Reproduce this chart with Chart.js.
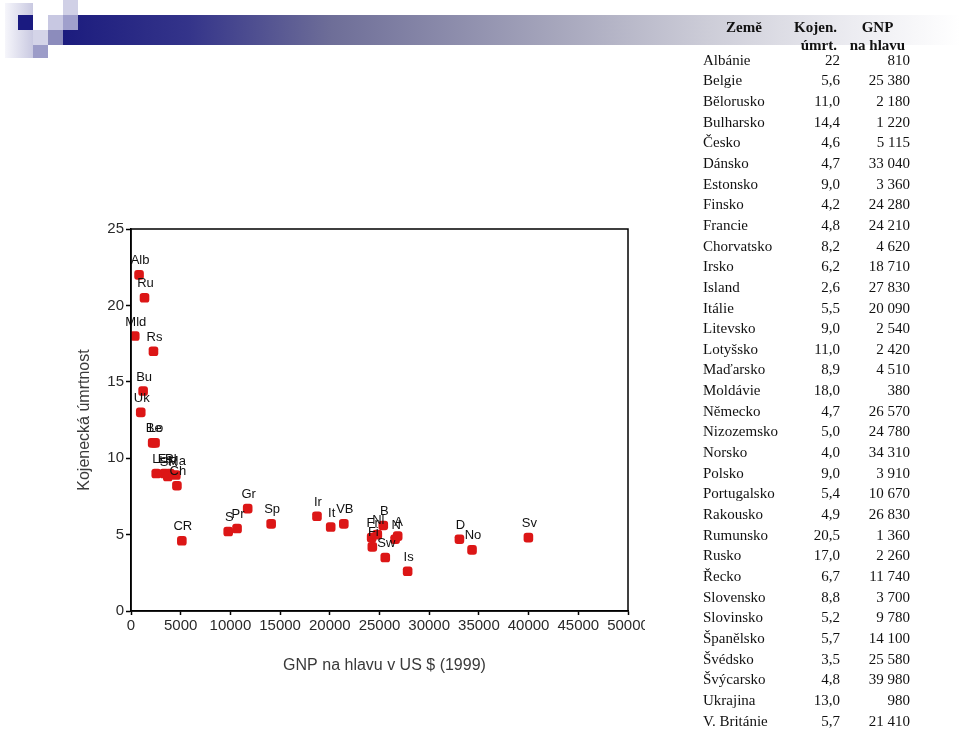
<!DOCTYPE html>
<html lang="cs">
<head>
<meta charset="utf-8">
<title>Kojenecká úmrtnost a GNP na hlavu</title>
<script src="https://cdn.jsdelivr.net/npm/chart.js@4"></script>
<style>
  html, body { margin: 0; padding: 0; background: #fff; }
  body { width: 960px; height: 731px; position: relative; overflow: hidden; }
  .ctv { position: absolute; }
  #pruh {
    position: absolute; left: 63px; top: 15px; width: 897px; height: 30px;
    background: linear-gradient(to right, #1c1c7e 0%, #34348a 14%, #6e6e98 30%, #a6a6bc 55%, #cdcdd8 72%, #ececf1 88%, #ffffff 100%);
  }
  #graf { position: absolute; left: 0; top: 0; }
  #tabulka { position: absolute; left: 0; top: 0; width: 960px; height: 731px;
    font-family: "Liberation Serif", "Times New Roman", serif; font-size: 15px; color: #111; }
  .hlav { position: absolute; font-weight: bold; line-height: 18px; top: 18px; }
  .radek { position: absolute; left: 0; width: 960px; height: 20.65px; line-height: 20.65px; }
  .radek span { position: absolute; top: 0; }
  .c1 { left: 703px; }
  .c2 { left: 780px; width: 60px; text-align: right; }
  .c3 { left: 840px; width: 70px; text-align: right; }
</style>
</head>
<body>

<!-- logo vlevo nahore -->
<div class="ctv" style="left:5px;top:3px;width:28px;height:55px;background:linear-gradient(to right,#f6f6fb,#c9c9e1);"></div>
<div class="ctv" style="left:18px;top:15px;width:15px;height:15px;background:#1a1a80;"></div>
<div class="ctv" style="left:33px;top:30px;width:15px;height:15px;background:#d4d4e8;"></div>
<div class="ctv" style="left:33px;top:45px;width:15px;height:13px;background:#9c9cc8;"></div>
<div class="ctv" style="left:48px;top:15px;width:15px;height:15px;background:#c8c8e2;"></div>
<div class="ctv" style="left:48px;top:30px;width:15px;height:15px;background:#8c8cbc;"></div>
<div class="ctv" style="left:63px;top:0px;width:15px;height:15px;background:#d0d0e6;"></div>
<div id="pruh"></div>
<div class="ctv" style="left:63px;top:15px;width:15px;height:15px;background:#a0a0cc;"></div>

<canvas id="graf" width="645" height="731"></canvas>

<div id="tabulka">
  <div class="hlav" style="left:726px;">Země</div>
  <div class="hlav" style="left:780px;width:57px;text-align:right;">Kojen.<br>úmrt.</div>
  <div class="hlav" style="left:845px;width:65px;text-align:center;">GNP<br>na hlavu</div>
</div>

<script>
// data z tabulky (zeme, kojenecka umrtnost, GNP na hlavu v US $ 1999)
const zeme = ['Albánie', 'Belgie', 'Bělorusko', 'Bulharsko', 'Česko', 'Dánsko', 'Estonsko', 'Finsko',
  'Francie', 'Chorvatsko', 'Irsko', 'Island', 'Itálie', 'Litevsko', 'Lotyšsko', 'Maďarsko', 'Moldávie',
  'Německo', 'Nizozemsko', 'Norsko', 'Polsko', 'Portugalsko', 'Rakousko', 'Rumunsko', 'Rusko', 'Řecko',
  'Slovensko', 'Slovinsko', 'Španělsko', 'Švédsko', 'Švýcarsko', 'Ukrajina', 'V. Británie'];
const zkratky = ['Alb', 'B', 'Be', 'Bu', 'CR', 'D', 'Es', 'Fi', 'Fr', 'Ch', 'Ir', 'Is', 'It', 'Li', 'Lo',
  'Ma', 'Mld', 'N', 'Nl', 'No', 'Pl', 'Pr', 'A', 'Ru', 'Rs', 'Gr', 'SR', 'S', 'Sp', 'Sw', 'Sv', 'Uk', 'VB'];
const umrtnost = [22, 5.6, 11.0, 14.4, 4.6, 4.7, 9.0, 4.2, 4.8, 8.2, 6.2, 2.6, 5.5, 9.0, 11.0, 8.9, 18.0,
  4.7, 5.0, 4.0, 9.0, 5.4, 4.9, 20.5, 17.0, 6.7, 8.8, 5.2, 5.7, 3.5, 4.8, 13.0, 5.7];
const gnp = [810, 25380, 2180, 1220, 5115, 33040, 3360, 24280, 24210, 4620, 18710, 27830, 20090, 2540,
  2420, 4510, 380, 26570, 24780, 34310, 3910, 10670, 26830, 1360, 2260, 11740, 3700, 9780, 14100, 25580,
  39980, 980, 21410];

const titulX = 'GNP na hlavu v US $ (1999)';
const titulY = 'Kojenecká úmrtnost';
const PISMO = '"Liberation Sans", Arial, sans-serif';

/* ---------- tabulka vpravo ---------- */
function fmtUmrt(v) {
  // v originale je "22" bez desetinne casti, ostatni s jednim mistem
  return (String(v).includes('.') || v < 20) ? v.toFixed(1).replace('.', ',') : String(v);
}
function fmtGnp(v) {
  return String(v).replace(/\B(?=(\d{3})+(?!\d))/g, ' ');
}
const tab = document.getElementById('tabulka');
zeme.forEach((z, i) => {
  const r = document.createElement('div');
  r.className = 'radek';
  r.style.top = (49.7 + i * 20.65) + 'px';
  r.innerHTML = `<span class="c1">${z}</span><span class="c2">${fmtUmrt(umrtnost[i])}</span><span class="c3">${fmtGnp(gnp[i])}</span>`;
  tab.appendChild(r);
});

/* ---------- pluginy: ramecek, popisky bodu, nazvy os ---------- */
const ramecek = {
  id: 'ramecek',
  afterDraw(chart) {
    const { ctx, chartArea: a } = chart;
    ctx.save();
    ctx.strokeStyle = '#000';
    ctx.lineWidth = 1.5;
    ctx.strokeRect(a.left, a.top, a.right - a.left, a.bottom - a.top);
    ctx.restore();
  }
};

const popisky = {
  id: 'popisky',
  afterDatasetsDraw(chart) {
    const ctx = chart.ctx;
    const meta = chart.getDatasetMeta(0);
    ctx.save();
    ctx.font = '13px ' + PISMO;
    ctx.fillStyle = '#111';
    ctx.textAlign = 'center';
    ctx.textBaseline = 'middle';
    meta.data.forEach((pt, i) => ctx.fillText(zkratky[i], pt.x + 1, pt.y - 14));
    ctx.restore();
  }
};

const titulky = {
  id: 'titulky',
  afterDraw(chart) {
    const ctx = chart.ctx, a = chart.chartArea;
    ctx.save();
    ctx.font = '16px ' + PISMO;
    ctx.fillStyle = '#3a3a3a';
    ctx.textAlign = 'center';
    ctx.textBaseline = 'middle';
    ctx.fillText(titulX, (a.left + a.right) / 2 + 5, 666);
    ctx.translate(85, (a.top + a.bottom) / 2);
    ctx.rotate(-Math.PI / 2);
    ctx.fillText(titulY, 0, 0);
    ctx.restore();
  }
};

const osa = {
  border: { color: '#000', width: 1.5 },
  grid: { drawOnChartArea: false, drawTicks: true, tickLength: 5, color: '#000', tickWidth: 1.5 },
};

new Chart(document.getElementById('graf'), {
  type: 'scatter',
  data: {
    datasets: [{
      data: gnp.map((x, i) => ({ x, y: umrtnost[i] })),
      backgroundColor: '#dc1616',
      borderWidth: 0,
      pointStyle: 'rectRounded',
      pointRadius: 5.6,
    }]
  },
  options: {
    responsive: false,
    animation: false,
    devicePixelRatio: 1,
    layout: { padding: { left: 0, top: 229, right: 17, bottom: 0 } },
    plugins: { legend: { display: false }, tooltip: { enabled: false } },
    scales: {
      x: {
        type: 'linear', min: 0, max: 50000, ...osa,
        grid: { ...osa.grid, tickLength: 4 },
        ticks: { stepSize: 5000, autoSkip: false, maxRotation: 0, padding: 2, color: '#2a2a2a',
          font: { family: PISMO, size: 15 }, callback: v => String(v) },
        afterFit: s => { s.height = 120; s.paddingLeft = 0; s.paddingRight = 0; },
      },
      y: {
        min: 0, max: 25, ...osa,
        ticks: { stepSize: 5, padding: 2, color: '#2a2a2a', font: { family: PISMO, size: 15 },
          callback: v => String(v) },
        afterFit: s => { s.width = 131; s.paddingTop = 0; s.paddingBottom = 0; },
      },
    },
  },
  plugins: [ramecek, popisky, titulky],
});
</script>
</body>
</html>
